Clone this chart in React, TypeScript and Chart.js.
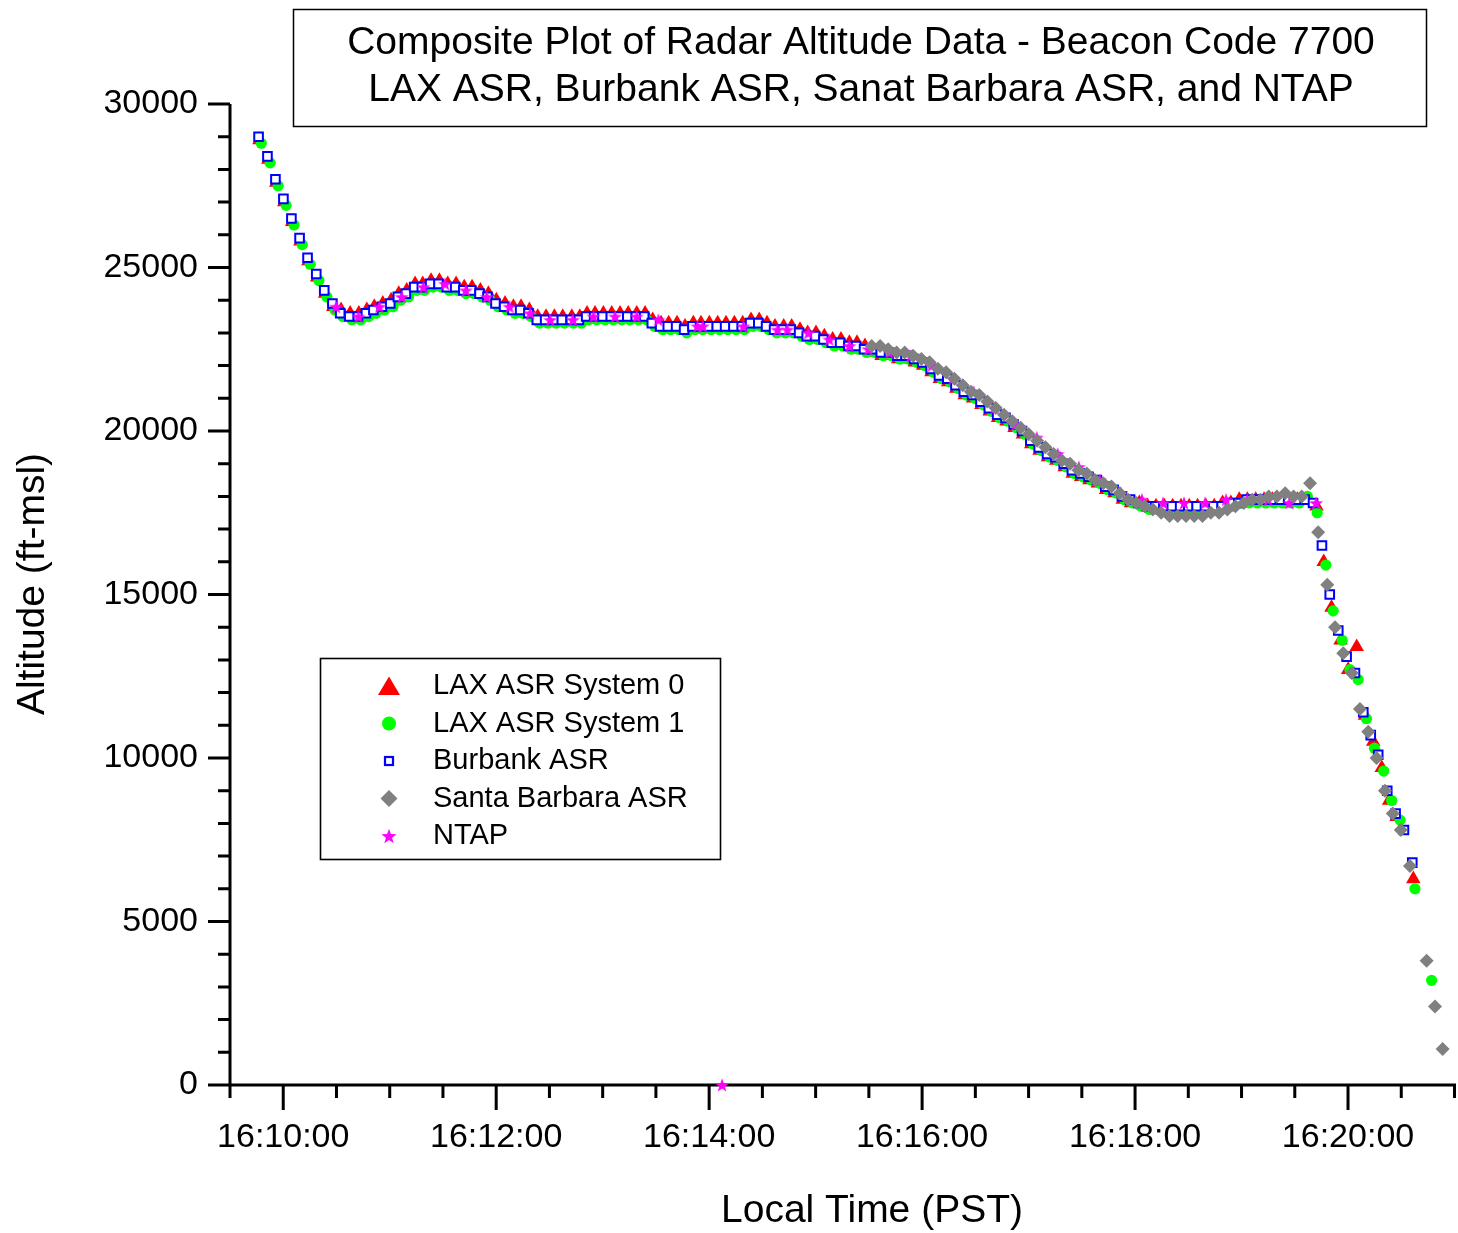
import { useEffect, useRef } from "react";
import { Chart, registerables } from "chart.js";

Chart.register(...registerables);

const FONT = '"Liberation Sans", Arial, Helvetica, sans-serif';

// Time values are seconds after 16:00:00 PST.
const X_MIN = 570; // 16:09:30
const X_MAX = 1260; // 16:21:00
const X_MINOR_STEP = 30;
const X_MAJOR_STEP = 120;
const Y_MIN = 0;
const Y_MAX = 30000;
const Y_MINOR_STEP = 1000;
const Y_MAJOR_STEP = 5000;

const titleLines = [
  "Composite Plot of Radar Altitude Data - Beacon Code 7700",
  "LAX ASR, Burbank ASR, Sanat Barbara ASR, and NTAP",
];
const xAxisTitle = "Local Time (PST)";
const yAxisTitle = "Altitude (ft-msl)";
const legendLabels = [
  "LAX ASR System 0",
  "LAX ASR System 1",
  "Burbank ASR",
  "Santa Barbara ASR",
  "NTAP",
];

// ---- LAX ASR System 0 (red triangles)
const lax0Time = [
  586.6, 591.6, 596.1, 600.6, 605.1, 609.7, 614.2, 619.1, 623.6, 628.2,
  632.6, 637.7, 642.6, 647.1, 651.3, 656.1, 660.8, 665.1, 669.6, 674.3,
  678.6, 683.3, 688.0, 692.7, 697.4, 702.0, 706.4, 711.1, 715.6, 720.1,
  725.0, 729.7, 734.0, 738.7, 743.4, 748.1, 752.8, 757.5, 762.6, 767.1,
  771.2, 775.7, 780.4, 785.1, 789.8, 794.4, 799.2, 803.9, 808.2, 812.9,
  817.2, 821.9, 826.4, 831.1, 835.4, 840.1, 844.8, 849.5, 854.2, 858.9,
  863.6, 868.2, 872.6, 877.1, 882.0, 886.5, 891.2, 895.5, 900.2, 904.9,
  909.6, 914.3, 919.0, 923.3, 927.8,
  932.5, 937.2, 941.9, 946.5, 951.2, 955.9, 960.6, 965.3, 970.0, 974.7,
  979.3, 984.0, 988.7, 993.4, 998.1, 1002.8, 1007.5, 1012.1, 1016.8, 1021.5,
  1026.2, 1030.9, 1035.6, 1040.3, 1044.9, 1049.6, 1054.3, 1059.0, 1063.7, 1068.4,
  1073.1, 1077.7, 1082.4, 1087.1, 1091.8, 1096.5, 1101.2, 1105.9, 1110.5, 1115.2,
  1119.9, 1124.6, 1129.3, 1134.0, 1138.7, 1143.3, 1148.0, 1152.7, 1157.4, 1162.1,
  1166.8, 1171.5, 1176.1,
  1182.2, 1186.3, 1190.7, 1195.8, 1200.1, 1204.9, 1209.6, 1214.2, 1219.0, 1223.2, 1227.4, 1236.8,
];
const lax0Alt = [
  28900, 28300, 27600, 27000, 26400, 25800, 25200, 24700, 24200, 23800,
  23700, 23600, 23600, 23700, 23800, 23900, 24000, 24200, 24300, 24500,
  24500, 24600, 24600, 24500, 24500, 24400, 24400, 24300, 24200, 24000,
  23900, 23800, 23800, 23700, 23500, 23500, 23500, 23500, 23500, 23500,
  23600, 23600, 23600, 23600, 23600, 23600, 23600, 23600, 23400, 23300,
  23300, 23300, 23200, 23300, 23300, 23300, 23300, 23300, 23300, 23300,
  23400, 23400, 23300, 23200, 23200, 23200, 23100, 23000, 23000, 22900,
  22800, 22800, 22700, 22700, 22600,
  22400, 22300, 22300, 22200, 22200, 22100, 22000, 21800, 21600, 21500,
  21300, 21100, 21000, 20800, 20600, 20400, 20300, 20100, 19900, 19600,
  19400, 19200, 19100, 18900, 18700, 18600, 18500, 18400, 18200, 18100,
  17900, 17800, 17800, 17700, 17700, 17700, 17700, 17700, 17700, 17700,
  17700, 17700, 17800, 17800, 17900, 17900, 17900, 17900, 17900, 17900,
  17900, 17900, 17900,
  17700, 16000, 14600, 13600, 12700, 13400, 11300, 10500, 9700, 8700, 8200, 6300,
];

// ---- LAX ASR System 1 (green circles)
const lax1Time = [
  587.6, 592.6, 597.1, 601.6, 606.1, 610.7, 615.2, 620.1, 624.6, 629.2,
  633.6, 638.7, 643.6, 648.1, 652.3, 657.1, 661.8, 666.1, 670.6, 675.3,
  679.6, 684.3, 689.0, 693.7, 698.4, 703.0, 707.4, 712.1, 716.6, 721.1,
  726.0, 730.7, 735.0, 739.7, 744.4, 749.1, 753.8, 758.5, 763.6, 768.1,
  772.2, 776.7, 781.4, 786.1, 790.8, 795.4, 800.2, 804.9, 809.2, 813.9,
  818.2, 822.9, 827.4, 832.1, 836.4, 841.1, 845.8, 850.5, 855.2, 859.9,
  864.6, 869.2, 873.6, 878.1, 883.0, 887.5, 892.2, 896.5, 901.2, 905.9,
  910.6, 915.3, 920.0, 924.3, 928.8,
  933.5, 938.2, 942.9, 947.5, 952.2, 956.9, 961.6, 966.3, 971.0, 975.7,
  980.3, 985.0, 989.7, 994.4, 999.1, 1003.8, 1008.5, 1013.1, 1017.8, 1022.5,
  1027.2, 1031.9, 1036.6, 1041.3, 1045.9, 1050.6, 1055.3, 1060.0, 1064.7, 1069.4,
  1074.1, 1078.7, 1083.4, 1088.1, 1092.8, 1097.5, 1102.2, 1106.9, 1111.5, 1116.2,
  1120.9, 1125.6, 1130.3, 1135.0, 1139.7, 1144.3, 1149.0, 1153.7, 1158.4, 1163.1,
  1167.8, 1172.5, 1177.1,
  1182.6, 1187.5, 1191.6, 1196.7, 1201.1, 1205.7, 1210.4, 1214.9, 1220.1, 1224.6, 1229.3, 1237.7, 1247.1,
];
const lax1Alt = [
  28800, 28200, 27500, 26900, 26300, 25700, 25100, 24600, 24100, 23700,
  23500, 23400, 23400, 23500, 23600, 23700, 23800, 24000, 24100, 24300,
  24300, 24400, 24400, 24300, 24300, 24200, 24200, 24100, 24000, 23800,
  23700, 23600, 23600, 23500, 23300, 23300, 23300, 23300, 23300, 23300,
  23400, 23400, 23400, 23400, 23400, 23400, 23400, 23400, 23200, 23100,
  23100, 23100, 23000, 23100, 23100, 23100, 23100, 23100, 23100, 23100,
  23200, 23200, 23100, 23000, 23000, 23000, 22900, 22800, 22800, 22700,
  22600, 22600, 22500, 22500, 22400,
  22400, 22300, 22300, 22200, 22200, 22100, 22000, 21800, 21600, 21500,
  21300, 21100, 21000, 20800, 20600, 20400, 20300, 20100, 19900, 19600,
  19400, 19200, 19100, 18900, 18700, 18600, 18500, 18400, 18200, 18100,
  17900, 17800, 17700, 17600, 17600, 17600, 17600, 17600, 17600, 17600,
  17600, 17600, 17700, 17700, 17800, 17800, 17800, 17800, 17800, 17800,
  17800, 17800, 18000,
  17500, 15900, 14500, 13600, 12700, 12400, 11200, 10300, 9600, 8700, 8100, 6000, 3200,
];

// ---- Burbank ASR (blue open squares)
const burbankTime = [
  586.1, 591.1, 595.6, 600.1, 604.6, 609.2, 613.7, 618.6, 623.1, 627.7,
  632.1, 637.2, 642.1, 646.6, 650.8, 655.6, 660.3, 664.6, 669.1, 673.8,
  678.1, 682.8, 687.5, 692.2, 696.9, 701.5, 705.9, 710.6, 715.1, 719.6,
  724.5, 729.2, 733.5, 738.2, 742.9, 747.6, 752.3, 757.0, 762.1, 766.6,
  770.7, 775.2, 779.9, 784.6, 789.3, 793.9, 798.7, 803.4, 807.7, 812.4,
  816.7, 821.4, 825.9, 830.6, 834.9, 839.6, 844.3, 849.0, 853.7, 858.4,
  863.1, 867.7, 872.1, 876.6, 881.5, 886.0, 890.7, 895.0, 899.7, 904.4,
  909.1, 913.8, 918.5, 922.8, 927.3,
  932.0, 936.7, 941.4, 946.0, 950.7, 955.4, 960.1, 964.8, 969.5, 974.2,
  978.8, 983.5, 988.2, 992.9, 997.6, 1002.3, 1007.0, 1011.6, 1016.3, 1021.0,
  1025.7, 1030.4, 1035.1, 1039.8, 1044.4, 1049.1, 1053.8, 1058.5, 1063.2, 1067.9,
  1072.6, 1077.2, 1081.9, 1086.6, 1091.3, 1096.0, 1100.7, 1105.4, 1110.0, 1114.7,
  1119.4, 1124.1, 1128.8, 1133.5, 1138.2, 1142.8, 1147.5, 1152.2, 1156.9, 1161.6,
  1166.3, 1171.0, 1175.6, 1180.3,
  1185.3, 1189.7, 1194.5, 1199.2, 1203.9, 1208.6, 1212.8, 1217.0, 1222.1, 1226.8, 1231.5, 1236.2,
];
const burbankAlt = [
  29000, 28400, 27700, 27100, 26500, 25900, 25300, 24800, 24300, 23900,
  23600, 23500, 23500, 23600, 23700, 23800, 23900, 24100, 24200, 24400,
  24400, 24500, 24500, 24400, 24400, 24300, 24300, 24200, 24100, 23900,
  23800, 23700, 23700, 23600, 23400, 23400, 23400, 23400, 23400, 23400,
  23500, 23500, 23500, 23500, 23500, 23500, 23500, 23500, 23300, 23200,
  23200, 23200, 23100, 23200, 23200, 23200, 23200, 23200, 23200, 23200,
  23300, 23300, 23200, 23100, 23100, 23100, 23000, 22900, 22900, 22800,
  22700, 22700, 22600, 22600, 22500,
  22500, 22400, 22400, 22300, 22300, 22200, 22100, 21900, 21700, 21600,
  21400, 21200, 21100, 20900, 20700, 20500, 20400, 20200, 20000, 19700,
  19500, 19300, 19200, 19000, 18800, 18700, 18600, 18500, 18300, 18200,
  18000, 17900, 17800, 17700, 17700, 17700, 17700, 17700, 17700, 17700,
  17700, 17700, 17700, 17800, 17800, 17900, 17900, 17900, 17900, 17900,
  17900, 17900, 17900, 17800,
  16500, 15000, 13900, 13100, 12600, 11400, 10700, 10100, 9000, 8300, 7800, 6800,
];

// ---- Santa Barbara ASR (gray diamonds)
const sbaTime = [
  931.6, 936.3, 940.9, 945.6, 950.2, 954.9, 959.6, 964.2, 968.9, 973.5,
  978.2, 982.9, 987.5, 992.2, 996.8, 1001.5, 1006.2, 1010.8, 1015.5, 1020.1,
  1024.8, 1029.5, 1034.1, 1038.8, 1043.4, 1048.1, 1052.8, 1057.4, 1062.1, 1066.7,
  1071.4, 1076.1, 1080.7, 1085.4, 1090.0, 1094.7, 1099.4, 1104.0, 1108.7, 1113.3,
  1118.0, 1122.7, 1127.3, 1132.0, 1136.6, 1141.3, 1146.0, 1150.6, 1155.3, 1159.9,
  1164.6, 1169.3, 1173.9, 1178.6,
  1183.2, 1188.3, 1192.7, 1197.3, 1202.1, 1206.7, 1211.4, 1216.1, 1220.8, 1225.2,
  1229.7, 1234.9, 1244.3, 1249.0, 1253.3,
];
const sbaAlt = [
  22600, 22600, 22500, 22400, 22400, 22300, 22200, 22100, 21900, 21800,
  21600, 21400, 21200, 21100, 20900, 20700, 20500, 20300, 20100, 19900,
  19700, 19500, 19300, 19100, 19000, 18800, 18700, 18500, 18400, 18300,
  18100, 17900, 17800, 17700, 17600, 17500, 17400, 17400, 17400, 17400,
  17400, 17500, 17500, 17600, 17700, 17800, 17900, 17900, 18000, 18000,
  18100, 18000, 18000, 18400,
  16900, 15300, 14000, 13200, 12600, 11500, 10800, 10000, 9000, 8300,
  7800, 6700, 3800, 2400, 1100,
];

// ---- NTAP (magenta stars)
const ntapTime = [
  629.8, 642.4, 654.2, 666.8, 679.0, 691.2, 702.9, 714.7, 727.5, 739.1,
  750.4, 763.2, 774.8, 787.0, 799.2, 811.4, 833.4, 836.4, 847.3, 859.3,
  878.5, 884.1, 895.9, 907.7, 919.0, 929.7, 941.6, 953.5, 965.3, 977.2,
  989.0, 1000.9, 1012.7, 1024.6, 1036.4, 1048.3, 1060.1, 1072.0, 1083.9, 1095.8,
  1107.6, 1119.5, 1131.3, 1143.2, 1155.0, 1166.9, 1182.0,
];
const ntapAlt = [
  23800, 23500, 23800, 24100, 24400, 24500, 24300, 24100, 23800, 23600,
  23400, 23400, 23500, 23500, 23500, 23400, 23200, 23200, 0, 23200,
  23100, 23100, 23000, 22800, 22600, 22500, 22400, 22300, 22000, 21600,
  21200, 20700, 20200, 19800, 19300, 18900, 18500, 18100, 17900, 17800,
  17800, 17800, 17900, 17900, 17900, 17800, 17800,
];

function fmtTime(v: number): string {
  const h = 16 + Math.floor(v / 3600);
  const m = Math.floor((v % 3600) / 60);
  const s = Math.round(v % 60);
  const p = (n: number) => String(n).padStart(2, "0");
  return `${h}:${p(m)}:${p(s)}`;
}

function starPath(ctx: CanvasRenderingContext2D, cx: number, cy: number, R: number, r: number) {
  ctx.beginPath();
  for (let i = 0; i < 10; i++) {
    const rad = i % 2 === 0 ? R : r;
    const a = -Math.PI / 2 + (i * Math.PI) / 5;
    const px = cx + rad * Math.cos(a);
    const py = cy + rad * Math.sin(a);
    if (i === 0) ctx.moveTo(px, py);
    else ctx.lineTo(px, py);
  }
  ctx.closePath();
}

const decorPlugin = {
  id: "decor",
  beforeDatasetsDraw(chart: any) {
    const { ctx, chartArea: a, scales } = chart;
    const xs = scales.x;
    const ys = scales.y;
    ctx.save();
    ctx.strokeStyle = "#000";
    ctx.lineWidth = 3;
    ctx.lineCap = "butt";
    ctx.beginPath();
    // axis lines
    ctx.moveTo(a.left - 1.5, a.bottom);
    ctx.lineTo(a.right + 1.5, a.bottom);
    ctx.moveTo(a.left, a.top);
    ctx.lineTo(a.left, a.bottom + 1.5);
    // x ticks
    xs.ticks.forEach((t: any) => {
      const px = xs.getPixelForValue(t.value);
      const major = t.value % X_MAJOR_STEP === 0;
      ctx.moveTo(px, a.bottom);
      ctx.lineTo(px, a.bottom + (major ? 25 : 13));
    });
    // y ticks
    ys.ticks.forEach((t: any) => {
      const py = ys.getPixelForValue(t.value);
      const major = t.value % Y_MAJOR_STEP === 0;
      ctx.moveTo(a.left, py);
      ctx.lineTo(a.left - (major ? 22 : 12), py);
    });
    ctx.stroke();
    ctx.restore();
  },
  afterDraw(chart: any) {
    const { ctx } = chart;
    ctx.save();
    // title box
    ctx.fillStyle = "#fff";
    ctx.fillRect(293, 9, 1134, 118);
    ctx.strokeStyle = "#000";
    ctx.lineWidth = 1.5;
    ctx.strokeRect(293.5, 9.5, 1133, 117);
    ctx.fillStyle = "#000";
    ctx.font = `39px ${FONT}`;
    ctx.textAlign = "center";
    ctx.textBaseline = "middle";
    ctx.fillText(titleLines[0], 861, 43);
    ctx.fillText(titleLines[1], 861, 90);

    // axis titles
    ctx.fillText(xAxisTitle, 872, 1211);
    ctx.save();
    ctx.translate(33, 584);
    ctx.rotate(-Math.PI / 2);
    ctx.fillText(yAxisTitle, 0, 0);
    ctx.restore();

    // legend
    const lx = 320.5, ly = 658.5, lw = 400, lh = 201;
    ctx.fillStyle = "#fff";
    ctx.fillRect(lx, ly, lw, lh);
    ctx.strokeStyle = "#000";
    ctx.lineWidth = 1.6;
    ctx.strokeRect(lx, ly, lw, lh);
    const rows = [686, 723.5, 761, 798.5, 836];
    const mx = 389;
    ctx.font = `29px ${FONT}`;
    ctx.textAlign = "left";
    ctx.textBaseline = "middle";
    legendLabels.forEach((lab, i) => {
      const cy = rows[i];
      ctx.save();
      if (i === 0) {
        ctx.fillStyle = "#FF0000";
        ctx.beginPath();
        ctx.moveTo(mx, cy - 9.5);
        ctx.lineTo(mx + 11, cy + 9);
        ctx.lineTo(mx - 11, cy + 9);
        ctx.closePath();
        ctx.fill();
      } else if (i === 1) {
        ctx.fillStyle = "#00FF00";
        ctx.beginPath();
        ctx.arc(mx, cy, 7, 0, Math.PI * 2);
        ctx.fill();
      } else if (i === 2) {
        ctx.fillStyle = "#fff";
        ctx.fillRect(mx - 4.5, cy - 4.5, 9, 9);
        ctx.strokeStyle = "#0000FF";
        ctx.lineWidth = 2.2;
        ctx.strokeRect(mx - 4, cy - 4, 8, 8);
      } else if (i === 3) {
        ctx.fillStyle = "#808080";
        ctx.beginPath();
        ctx.moveTo(mx, cy - 8.5);
        ctx.lineTo(mx + 8.5, cy);
        ctx.lineTo(mx, cy + 8.5);
        ctx.lineTo(mx - 8.5, cy);
        ctx.closePath();
        ctx.fill();
      } else {
        ctx.fillStyle = "#FF00FF";
        starPath(ctx, mx, cy + 0.7, 8, 3.2);
        ctx.fill();
      }
      ctx.restore();
      ctx.fillStyle = "#000";
      ctx.fillText(lab, 433, cy);
    });
    ctx.restore();
  },
};

export default function App() {
  const ref = useRef<HTMLCanvasElement>(null);

  useEffect(() => {
    const canvas = ref.current;
    if (!canvas) return;

    const starImg = document.createElement("canvas");
    starImg.width = 16;
    starImg.height = 16;
    const sctx = starImg.getContext("2d")!;
    sctx.fillStyle = "#FF00FF";
    starPath(sctx, 8, 8.7, 7.4, 2.9);
    sctx.fill();

    const toPts = (t: number[], v: number[]) => t.map((x, i) => ({ x, y: v[i] }));

    const chart = new Chart(canvas, {
      type: "scatter",
      data: {
        datasets: [
          {
            label: legendLabels[0],
            data: toPts(lax0Time, lax0Alt),
            pointStyle: "triangle",
            pointRadius: 8.4,
            pointHoverRadius: 8.4,
            pointBackgroundColor: "#FF0000",
            pointBorderColor: "#FF0000",
            pointBorderWidth: 0,
            order: 4,
            clip: false,
          },
          {
            label: legendLabels[1],
            data: toPts(lax1Time, lax1Alt),
            pointStyle: "circle",
            pointRadius: 5.6,
            pointHoverRadius: 5.6,
            pointBackgroundColor: "#00FF00",
            pointBorderColor: "#00FF00",
            pointBorderWidth: 0,
            order: 3,
            clip: false,
          },
          {
            label: legendLabels[2],
            data: toPts(burbankTime, burbankAlt),
            pointStyle: "rect",
            pointRadius: 6.1,
            pointHoverRadius: 6.1,
            pointBackgroundColor: "#FFFFFF",
            pointBorderColor: "#0000FF",
            pointBorderWidth: 2,
            order: 2,
            clip: false,
          },
          {
            label: legendLabels[3],
            data: toPts(sbaTime, sbaAlt),
            pointStyle: "rectRot",
            pointRadius: 7,
            pointHoverRadius: 7,
            pointBackgroundColor: "#808080",
            pointBorderColor: "#808080",
            pointBorderWidth: 0,
            order: 0,
            clip: false,
          },
          {
            label: legendLabels[4],
            data: toPts(ntapTime, ntapAlt),
            pointStyle: starImg as any,
            pointRadius: 7,
            pointHoverRadius: 7,
            pointBackgroundColor: "#FF00FF",
            pointBorderColor: "#FF00FF",
            pointBorderWidth: 0,
            order: 1,
            clip: false,
          },
        ],
      },
      options: {
        responsive: false,
        maintainAspectRatio: false,
        animation: false,
        devicePixelRatio: 1,
        events: [],
        layout: { autoPadding: false, padding: { left: 0, top: 104, right: 3.5, bottom: 0 } },
        plugins: {
          legend: { display: false },
          title: { display: false },
          tooltip: { enabled: false },
        },
        scales: {
          x: {
            type: "linear",
            position: "bottom",
            min: X_MIN,
            max: X_MAX,
            grid: { display: false, drawTicks: false },
            border: { display: false },
            ticks: {
              stepSize: X_MINOR_STEP,
              maxTicksLimit: 200,
              autoSkip: false,
              maxRotation: 0,
              minRotation: 0,
              padding: 0,
              color: "#000",
              font: { family: FONT, size: 34, lineHeight: 3.08 },
              callback: (v: any) => (Number(v) % X_MAJOR_STEP === 0 ? fmtTime(Number(v)) : ""),
            },
            afterFit: (s: any) => {
              s.height = 148;
            },
          },
          y: {
            type: "linear",
            min: Y_MIN,
            max: Y_MAX,
            grid: { display: false, drawTicks: false },
            border: { display: false },
            ticks: {
              stepSize: Y_MINOR_STEP,
              maxTicksLimit: 200,
              autoSkip: false,
              padding: 32,
              color: "#000",
              font: { family: FONT, size: 34 },
              callback: (v: any) => (Number(v) % Y_MAJOR_STEP === 0 ? String(v) : ""),
            },
            afterFit: (s: any) => {
              s.width = 230;
            },
          },
        },
      },
      plugins: [decorPlugin],
    });

    return () => chart.destroy();
  }, []);

  return (
    <div style={{ position: "fixed", left: 0, top: 0, width: 1458, height: 1233, background: "#fff" }}>
      <canvas ref={ref} width={1458} height={1233} style={{ display: "block", width: 1458, height: 1233 }} />
    </div>
  );
}
